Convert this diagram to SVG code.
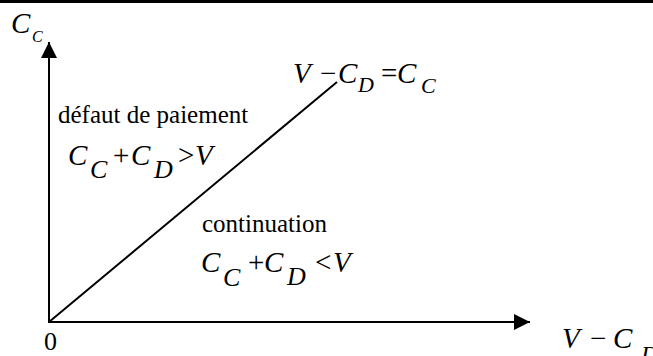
<svg xmlns="http://www.w3.org/2000/svg" width="653" height="356" viewBox="0 0 653 356">
<style>
.ax{stroke:#000;stroke-width:2;fill:none}
.m{font-family:"Liberation Serif","Times New Roman",serif;font-style:italic;font-size:29px;fill:#000}
.n{font-style:normal}
.r{font-family:"Liberation Serif","Times New Roman",serif;font-size:25px;fill:#000}
.u{font-family:"Liberation Serif","Times New Roman",serif;font-size:26px;fill:#000}
</style>
<defs>
<marker id="ah" markerWidth="16" markerHeight="16" refX="16" refY="8" orient="auto" markerUnits="userSpaceOnUse">
<path d="M0,0 L16,8 L0,16 Z" fill="#000"/>
</marker>
</defs>
<rect x="0" y="0" width="653" height="3" fill="#000"/>
<g id="connectors">
<line class="ax" x1="49" y1="323" x2="49" y2="42" marker-end="url(#ah)"/>
<line class="ax" x1="48" y1="322" x2="530" y2="322" marker-end="url(#ah)"/>
<line class="ax" x1="49" y1="322" x2="337" y2="82"/>
</g>
<g id="label-cc">
<text class="m" x="11" y="33">C<tspan font-size="16" x="32" y="42">C</tspan></text>
</g>
<g id="label-line">
<text class="m" x="293" y="83">V<tspan class="n" x="320" y="83">−</tspan><tspan x="338" y="83">C</tspan><tspan font-size="22" x="358" y="92">D</tspan><tspan class="n" x="381" y="83">=</tspan><tspan x="397" y="83">C</tspan><tspan font-size="22" x="421" y="93">C</tspan></text>
</g>
<g id="region-default">
<text class="r" x="58" y="123">défaut de paiement</text>
<text class="m" x="68" y="165">C<tspan font-size="26" x="90" y="178">C</tspan><tspan class="n" x="113" y="165">+</tspan><tspan x="131" y="165">C</tspan><tspan font-size="26" x="154" y="178">D</tspan><tspan class="n" x="178" y="165">&gt;</tspan><tspan x="195" y="165">V</tspan></text>
</g>
<g id="region-continuation">
<text class="r" x="202" y="232">continuation</text>
<text class="m" x="201" y="272">C<tspan font-size="26" x="223" y="286">C</tspan><tspan class="n" x="248" y="272">+</tspan><tspan x="264" y="272">C</tspan><tspan font-size="26" x="287" y="285">D</tspan><tspan class="n" x="315" y="272">&lt;</tspan><tspan x="333" y="272">V</tspan></text>
</g>
<g id="label-origin">
<text class="u" x="44" y="350">0</text>
</g>
<g id="label-x">
<text class="m" x="562" y="348" font-size="30">V<tspan class="n" x="590" y="348">−</tspan><tspan x="613" y="348">C</tspan><tspan font-size="24" x="641" y="362">D</tspan></text>
</g>
</svg>
